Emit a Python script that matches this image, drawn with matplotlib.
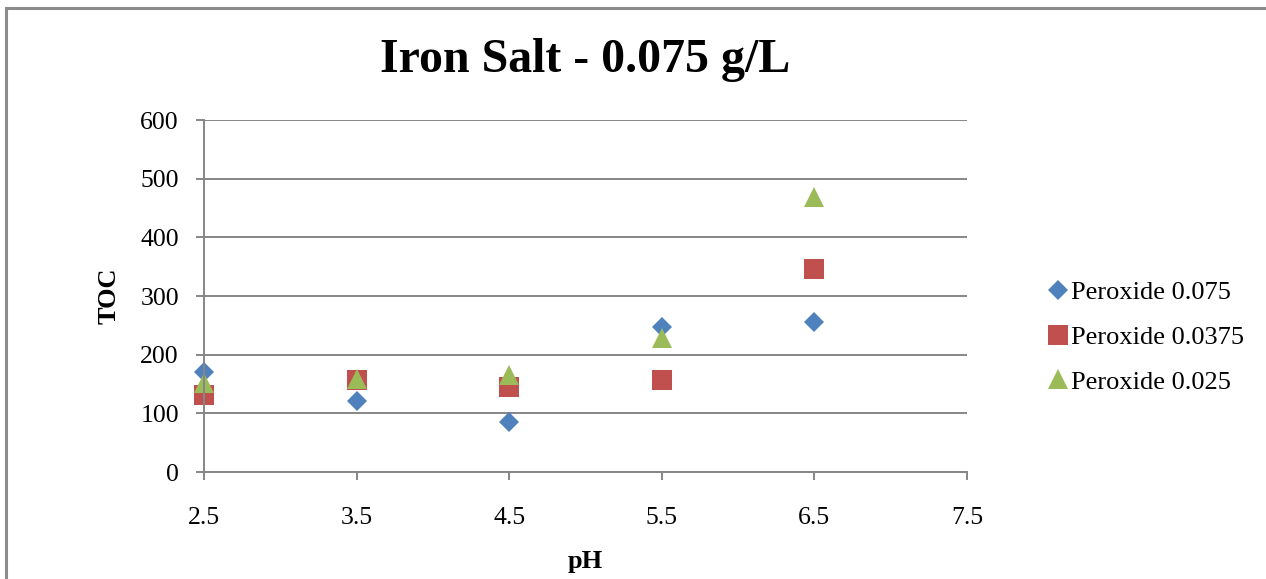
import numpy as np
import matplotlib.pyplot as plt
from matplotlib.patches import Rectangle

# ---- data ----
ph = [2.5, 3.5, 4.5, 5.5, 6.5]
toc_075 = [171, 121, 85, 248, 255]
toc_0375 = [132, 157, 145, 156, 346]
toc_025 = [152, 158, 165, 228, 468]

series = [
    ("Peroxide 0.075", toc_075, "D", "#4F81BD", 10.5),
    ("Peroxide 0.0375", toc_0375, "s", "#C0504D", 14),
    ("Peroxide 0.025", toc_025, "^", "#9BBB59", 14.5),
]

plt.rcParams["font.family"] = ["Liberation Serif", "DejaVu Serif"]

fig = plt.figure(figsize=(12.66, 5.79), dpi=100)
ax = fig.add_axes([0.1611, 0.1848, 0.6027, 0.6079])

for label, vals, mk, col, ms in series:
    ax.plot(ph, vals, linestyle="none", marker=mk, color=col,
            markersize=ms, markeredgewidth=0, label=label, clip_on=False)

ax.set_xlim(2.5, 7.5)
ax.set_ylim(0, 600)
ax.set_xticks(np.arange(2.5, 7.6, 1.0))
ax.set_yticks(np.arange(0, 601, 100))
ax.set_xticklabels(["2.5", "3.5", "4.5", "5.5", "6.5", "7.5"])

grid_col = "#868686"
ax.grid(axis="y", color=grid_col, linewidth=1.4)
ax.set_axisbelow(True)
for side in ["top", "right"]:
    ax.spines[side].set_visible(False)
for side in ["left", "bottom"]:
    ax.spines[side].set_color(grid_col)
    ax.spines[side].set_linewidth(1.4)

ax.tick_params(axis="y", direction="out", length=6, width=1.4, color=grid_col,
               labelsize=18.5, pad=12)
ax.tick_params(axis="x", direction="out", length=6, width=1.4, color=grid_col,
               labelsize=18.5, pad=19)

ax.set_xlabel("pH", fontsize=19, fontweight="bold", labelpad=15)
ax.set_ylabel("TOC", fontsize=19, fontweight="bold", labelpad=14)

fig.text(0.462, 0.897, "Iron Salt - 0.075 g/L", ha="center", va="center",
         fontsize=34.5, fontweight="bold")

ax.legend(loc="center left", bbox_to_anchor=(1.095, 0.383), frameon=False,
          fontsize=19, handlelength=0.6, handletextpad=0.2,
          labelspacing=0.8, borderaxespad=0, numpoints=1)

# outer chart border
fig.patches.append(Rectangle((6 / 1266, -0.1), 1.2, 1 - 8 / 579 + 0.1,
                             transform=fig.transFigure, fill=False,
                             edgecolor="#8C8C8C", linewidth=2.2))

fig.savefig("out.png", dpi=100)
